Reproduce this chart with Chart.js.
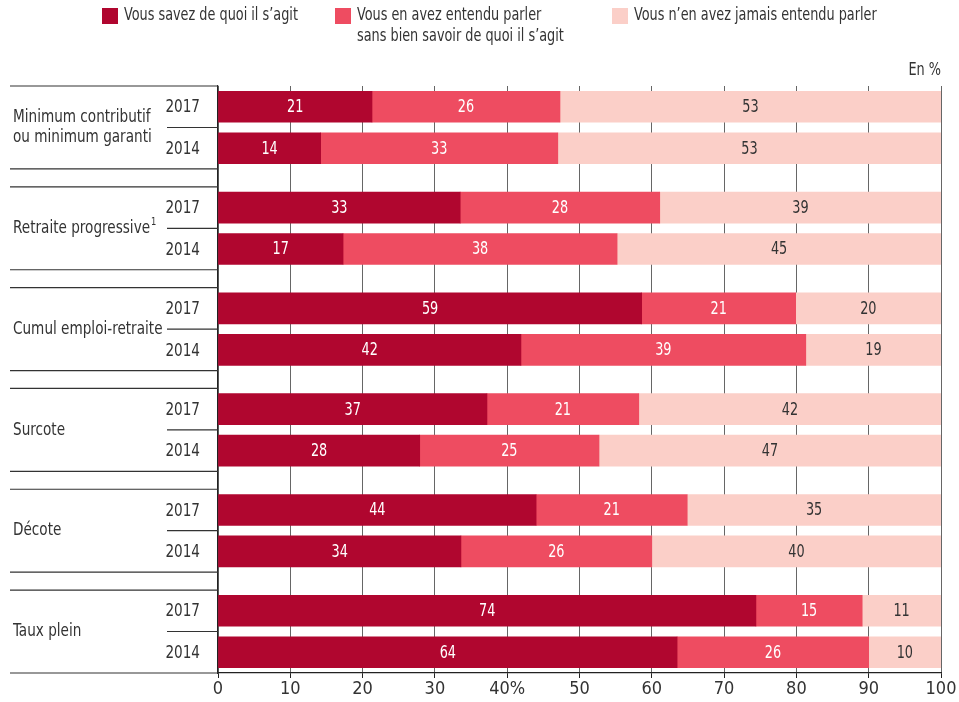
<!DOCTYPE html>
<html>
<head>
<meta charset="utf-8">
<script src="https://cdn.jsdelivr.net/npm/chart.js@4.4.1/dist/chart.umd.min.js"></script>
<style>
    html, body { margin: 0; padding: 0; background: #fff; }
    #wrap { width: 959px; height: 702px; position: relative; }
</style>
</head>
<body>
<div id="wrap"><canvas id="myChart"></canvas></div>
<script>
const FONT = '"DejaVu Sans Condensed", "DejaVu Sans", sans-serif';
const TEXT = '#333';
const NARROW = 0.84; // squeeze text to mimic the condensed face of the original

// groups (one per pair of bars), lines of each name + footnote mark
const groups = [
    ['Minimum contributif', 'ou minimum garanti'],
    ['Retraite progressive'],
    ['Cumul emploi-retraite'],
    ['Surcote'],
    ['Décote'],
    ['Taux plein'],
];
const footnotes = ['', '1', '', '', '', ''];
const years = ['2017', '2014'];

const seriesNames = [
    ['Vous savez de quoi il s\u2019agit'],
    ['Vous en avez entendu parler', 'sans bien savoir de quoi il s\u2019agit'],
    ['Vous n\u2019en avez jamais entendu parler'],
];

// rows: 2017, 2014 for each group, top to bottom
const known = [21.3, 14.2, 33.5, 17.3, 58.6, 41.9, 37.2, 27.9, 44.0, 33.6, 74.4, 63.5];
const heard = [26.0, 32.8, 27.6, 37.9, 21.3, 39.4, 21.0, 24.8, 20.9, 26.4, 14.7, 26.5];
const never = [52.7, 53.0, 38.9, 44.8, 20.1, 18.7, 41.8, 47.3, 35.1, 40.0, 10.9, 10.0];

// printed figures
const knownLabels = [21, 14, 33, 17, 59, 42, 37, 28, 44, 34, 74, 64];
const heardLabels = [26, 33, 28, 38, 21, 39, 21, 25, 21, 26, 15, 26];
const neverLabels = [53, 53, 39, 45, 20, 19, 42, 47, 35, 40, 11, 10];

const xTicks = [0, 10, 20, 30, 40, 50, 60, 70, 80, 90, 100];

const colors = ['#B0062F', '#EE4C61', '#FBCFC8'];
const labelColors = ['#fff', '#fff', '#333'];

const GROUP_STEP = 2.43;
function rowPos(i) {
    return Math.floor(i / 2) * GROUP_STEP + (i % 2);
}
const rowPositions = known.map((v, i) => rowPos(i));

function toPoints(values) {
    return values.map((v, i) => ({ x: v, y: rowPos(i) }));
}

const allLabels = [knownLabels, heardLabels, neverLabels];

function narrowText(ctx, text, x, y, align) {
    ctx.save();
    ctx.translate(x, y);
    ctx.scale(NARROW, 1);
    ctx.textAlign = align;
    ctx.fillText(text, 0, 0);
    ctx.restore();
}

// legend at the top
const legendPlugin = {
    id: 'topLegend',
    afterDraw(chart) {
        const ctx = chart.ctx;
        const boxX = [102, 335, 612];
        ctx.save();
        ctx.font = '17px ' + FONT;
        ctx.textBaseline = 'middle';
        seriesNames.forEach((lines, k) => {
            ctx.fillStyle = colors[k];
            ctx.fillRect(boxX[k], 8, 16, 16);
            ctx.fillStyle = TEXT;
            lines.forEach((line, j) => {
                narrowText(ctx, line, boxX[k] + 22, 16 + j * 21, 'left');
            });
        });
        narrowText(ctx, 'En %', chart.chartArea.right, 71, 'right');
        ctx.restore();
    }
};

// group names, years and frame lines on the left
const groupPlugin = {
    id: 'groupFrame',
    afterDraw(chart) {
        const ctx = chart.ctx;
        const y = chart.scales.y;
        const left = 10;
        const axisX = chart.chartArea.left;
        ctx.save();
        ctx.strokeStyle = '#333';
        ctx.lineWidth = 1.2;
        ctx.textBaseline = 'middle';
        groups.forEach((lines, g) => {
            const p = g * GROUP_STEP;
            const top = y.getPixelForValue(p - 0.5);
            const mid = y.getPixelForValue(p + 0.5);
            const bottom = y.getPixelForValue(p + 1.5);
            ctx.beginPath();
            ctx.moveTo(left, top); ctx.lineTo(axisX, top);
            ctx.moveTo(left, bottom); ctx.lineTo(axisX, bottom);
            ctx.moveTo(167, mid); ctx.lineTo(axisX, mid);
            ctx.stroke();

            ctx.fillStyle = TEXT;
            ctx.font = '18px ' + FONT;
            years.forEach((yr, k) => {
                narrowText(ctx, yr, 200, y.getPixelForValue(p + k) + 1, 'right');
            });
            const lh = 20;
            const start = mid - (lines.length - 1) * lh / 2;
            lines.forEach((line, j) => {
                narrowText(ctx, line, 13, start + j * lh, 'left');
            });
            if (footnotes[g]) {
                const w = ctx.measureText(lines[lines.length - 1]).width * NARROW;
                ctx.font = '11px ' + FONT;
                narrowText(ctx, footnotes[g], 13 + w + 1, start + (lines.length - 1) * lh - 6, 'left');
            }
        });
        ctx.restore();
    }
};

// figures inside the bars
const valuePlugin = {
    id: 'barValues',
    afterDatasetsDraw(chart) {
        const ctx = chart.ctx;
        ctx.save();
        ctx.font = '17px ' + FONT;
        ctx.textBaseline = 'middle';
        chart.data.datasets.forEach((ds, k) => {
            const meta = chart.getDatasetMeta(k);
            meta.data.forEach((bar, i) => {
                ctx.fillStyle = labelColors[k];
                narrowText(ctx, String(allLabels[k][i]), (bar.x + bar.base) / 2, bar.y + 1, 'center');
            });
        });
        ctx.restore();
    }
};

const ctx = document.getElementById('myChart').getContext('2d');
window.myChart = new Chart(ctx, {
    type: 'bar',
    data: {
        datasets: [known, heard, never].map((values, k) => ({
            label: seriesNames[k].join(' '),
            data: toPoints(values),
            backgroundColor: colors[k],
            borderWidth: 0,
            barThickness: 31,
        })),
    },
    options: {
        indexAxis: 'y',
        responsive: true,
        maintainAspectRatio: false,
        animation: false,
        layout: { padding: { top: 86, right: 18, left: 0, bottom: 0 } },
        plugins: {
            legend: { display: false },
            tooltip: { enabled: false },
        },
        scales: {
            x: {
                type: 'linear',
                stacked: true,
                min: 0,
                max: 100,
                afterBuildTicks: scale => { scale.ticks = xTicks.map(v => ({ value: v })); },
                afterFit: scale => { scale.height = 29; },
                ticks: {
                    callback: v => v === 40 ? '40%' : v,
                    color: TEXT,
                    font: { family: FONT, size: 18 },
                    padding: 1,
                    maxRotation: 0,
                },
                grid: {
                    color: '#666',
                    lineWidth: 1,
                    tickLength: 5,
                    tickColor: '#222',
                },
                border: { color: '#222', width: 1.2 },
            },
            y: {
                type: 'linear',
                stacked: true,
                reverse: true,
                offset: false,
                min: -0.5,
                max: 5 * GROUP_STEP + 1.5,
                afterBuildTicks: scale => { scale.ticks = rowPositions.map(v => ({ value: v })); },
                afterFit: scale => { scale.width = 218; },
                ticks: { display: false },
                grid: { display: false, drawTicks: false },
                border: { color: '#222', width: 1.2 },
            },
        },
    },
    plugins: [legendPlugin, groupPlugin, valuePlugin],
});
</script>
</body>
</html>
